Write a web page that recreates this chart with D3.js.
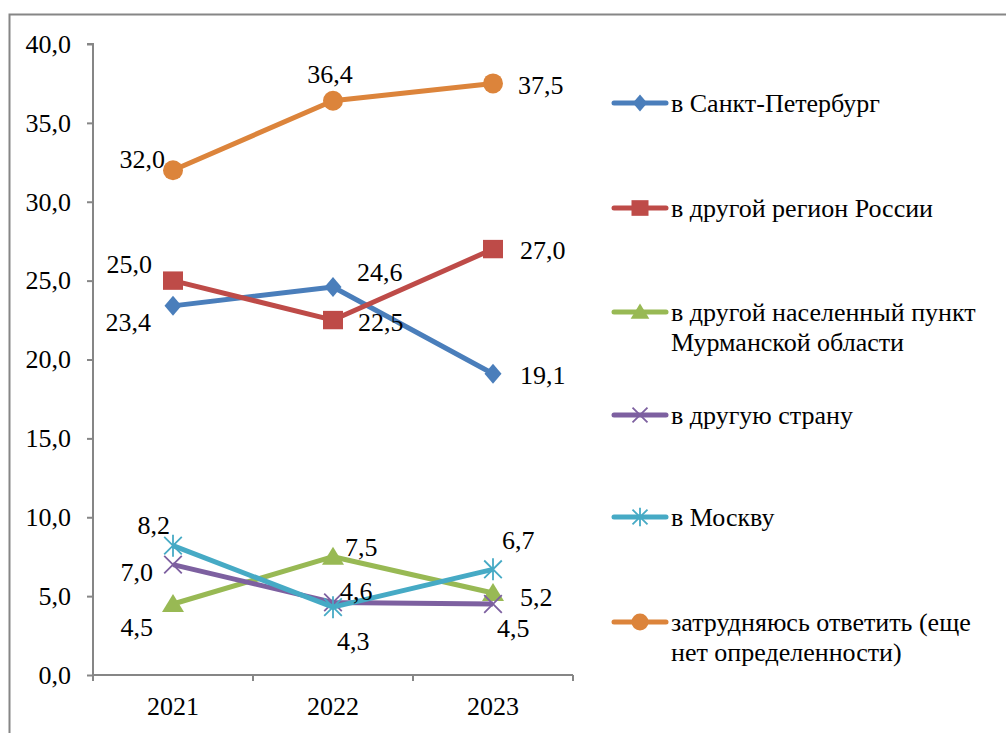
<!DOCTYPE html>
<html>
<head>
<meta charset="utf-8">
<script src="https://cdn.jsdelivr.net/npm/d3@7"></script>
<style>
  body { margin: 0; background: #fff; }
  svg { display: block; }
</style>
</head>
<body>
<script>
var years = ['2021', '2022', '2023'];
var seriesNames = [
  'в Санкт-Петербург',
  'в другой регион России',
  'в другой населенный пункт Мурманской области',
  'в другую страну',
  'в Москву',
  'затрудняюсь ответить (еще нет определенности)'
];
var spbValues = [23.4, 24.6, 19.1];
var regionValues = [25.0, 22.5, 27.0];
var murmanskValues = [4.5, 7.5, 5.2];
var abroadValues = [7.0, 4.6, 4.5];
var moscowValues = [8.2, 4.3, 6.7];
var unsureValues = [32.0, 36.4, 37.5];
var yTicks = [0, 5, 10, 15, 20, 25, 30, 35, 40];

var allValues = [spbValues, regionValues, murmanskValues, abroadValues, moscowValues, unsureValues];

// look of each series
var colors = ['#4a7ebb', '#be4b48', '#98b954', '#7d60a0', '#46aac5', '#dc843b'];
var markers = ['diamond', 'square', 'triangle', 'x', 'star', 'circle'];
var legendLines = [
  ['в Санкт-Петербург'],
  ['в другой регион России'],
  ['в другой населенный пункт', 'Мурманской области'],
  ['в другую страну'],
  ['в Москву'],
  ['затрудняюсь ответить (еще', 'нет определенности)']
];
var legendY = [103, 208, 312, 415, 517, 622];
// data label placement: [dx, dy, anchor]
var labelOffsets = [
  [[-22, 16, 'end'], [24, -15, 'start'], [27, 1, 'start']],
  [[-21, -17, 'end'], [25, 2, 'start'], [27, 1, 'start']],
  [[-20, 23, 'end'], [12, -10, 'start'], [27, 4, 'start']],
  [[-20, 7, 'end'], [7, -12, 'start'], [4, 24, 'start']],
  [[-3, -21, 'end'], [4, 34, 'start'], [9, -29, 'start']],
  [[-8, -11, 'end'], [-3, -27, 'middle'], [25, 1, 'start']]
];

var FONT = 'Liberation Serif';
var FS = 26;

var width = 1006, height = 733;
var plotLeft = 93, plotRight = 573, plotTop = 44, plotBottom = 675;

var svg = d3.select('body').append('svg')
  .attr('width', width)
  .attr('height', height)
  .attr('font-family', FONT);

svg.append('path')
  .attr('d', 'M9.5,' + height + 'V14.5H' + width)
  .attr('fill', 'none')
  .attr('stroke', '#868686')
  .attr('stroke-width', 2);

var x = d3.scaleBand()
  .domain(years)
  .range([plotLeft, plotRight]);

var y = d3.scaleLinear()
  .domain([0, 40])
  .range([plotBottom, plotTop]);

var fmt = function(v) { return d3.format('.1f')(v).replace('.', ','); };

var yAxis = svg.append('g')
  .attr('transform', 'translate(' + plotLeft + ',0)')
  .call(d3.axisLeft(y).tickValues(yTicks).tickSize(6).tickPadding(16).tickFormat(fmt));

var xAxis = svg.append('g')
  .attr('transform', 'translate(0,' + plotBottom + ')')
  .call(d3.axisBottom(x).tickSize(0).tickPadding(22));

xAxis.selectAll('.tick-sep')
  .data(d3.range(years.length + 1))
  .enter()
  .append('line')
    .attr('x1', function(i) { return plotLeft + i * x.step(); })
    .attr('x2', function(i) { return plotLeft + i * x.step(); })
    .attr('y1', 0)
    .attr('y2', 6);

[yAxis, xAxis].forEach(function(a) {
  a.attr('font-family', FONT).attr('font-size', FS);
  a.select('.domain').attr('stroke', '#868686').attr('stroke-width', 2);
  a.selectAll('line').attr('stroke', '#868686').attr('stroke-width', 2);
  a.selectAll('text').attr('fill', '#000');
});
xAxis.select('.domain').attr('d', 'M' + plotLeft + ',0H' + plotRight);
yAxis.select('.domain').attr('d', 'M-6,' + plotTop + 'H0V' + plotBottom);

function drawMarker(g, type, color, s) {
  if (type === 'diamond') {
    var w = s * 0.85;
    g.append('path').attr('d', 'M0,' + (-s) + 'L' + w + ',0L0,' + s + 'L' + (-w) + ',0Z').attr('fill', color);
  } else if (type === 'square') {
    g.append('rect').attr('x', -s).attr('y', -s * 0.92).attr('width', s * 2).attr('height', s * 1.84).attr('fill', color);
  } else if (type === 'triangle') {
    g.append('path').attr('d', 'M0,' + (-s) + 'L' + (s * 1.1) + ',' + (s * 0.8) + 'L' + (-s * 1.1) + ',' + (s * 0.8) + 'Z').attr('fill', color);
  } else if (type === 'circle') {
    g.append('circle').attr('r', s).attr('fill', color);
  } else if (type === 'x') {
    var a = s * 0.8;
    g.append('path').attr('d', 'M' + (-a) + ',' + (-a) + 'L' + a + ',' + a + 'M' + a + ',' + (-a) + 'L' + (-a) + ',' + a)
      .attr('stroke', color).attr('stroke-width', 1.8).attr('fill', 'none');
  } else if (type === 'star') {
    var b = s * 0.8;
    g.append('path').attr('d', 'M' + (-b) + ',' + (-b) + 'L' + b + ',' + b + 'M' + b + ',' + (-b) + 'L' + (-b) + ',' + b + 'M0,' + (-s) + 'V' + s)
      .attr('stroke', color).attr('stroke-width', 1.8).attr('fill', 'none');
  }
}

var cx = function(i) { return x(years[i]) + x.bandwidth() / 2; };

var line = d3.line()
  .x(function(d, i) { return cx(i); })
  .y(function(d) { return y(d); });

var markerSize = [10, 10, 10, 11, 11, 10];

allValues.forEach(function(vals, si) {
  svg.append('path')
    .attr('d', line(vals))
    .attr('fill', 'none')
    .attr('stroke', colors[si])
    .attr('stroke-width', 5)
    .attr('stroke-linejoin', 'round');

  vals.forEach(function(v, i) {
    var g = svg.append('g')
      .attr('transform', 'translate(' + cx(i) + ',' + y(v) + ')');
    drawMarker(g, markers[si], colors[si], markerSize[si]);
  });
});

allValues.forEach(function(vals, si) {
  vals.forEach(function(v, i) {
    var off = labelOffsets[si][i];
    svg.append('text')
      .attr('x', cx(i) + off[0])
      .attr('y', y(v) + off[1])
      .attr('dy', '0.35em')
      .attr('text-anchor', off[2])
      .attr('font-family', FONT)
      .attr('font-size', FS)
      .text(fmt(v));
  });
});

var legend = svg.append('g');
seriesNames.forEach(function(name, si) {
  var g = legend.append('g').attr('transform', 'translate(0,' + legendY[si] + ')');
  g.append('line')
    .attr('x1', 614).attr('x2', 666)
    .attr('stroke', colors[si]).attr('stroke-width', 5).attr('stroke-linecap', 'round');
  var mg = g.append('g').attr('transform', 'translate(640,0)');
  drawMarker(mg, markers[si], colors[si], markerSize[si] * 0.85);
  legendLines[si].forEach(function(t, li) {
    g.append('text')
      .attr('x', 671)
      .attr('y', li * 30)
      .attr('dy', '0.35em')
      .attr('font-family', FONT)
      .attr('font-size', FS)
      .text(t);
  });
});
</script>
</body>
</html>
